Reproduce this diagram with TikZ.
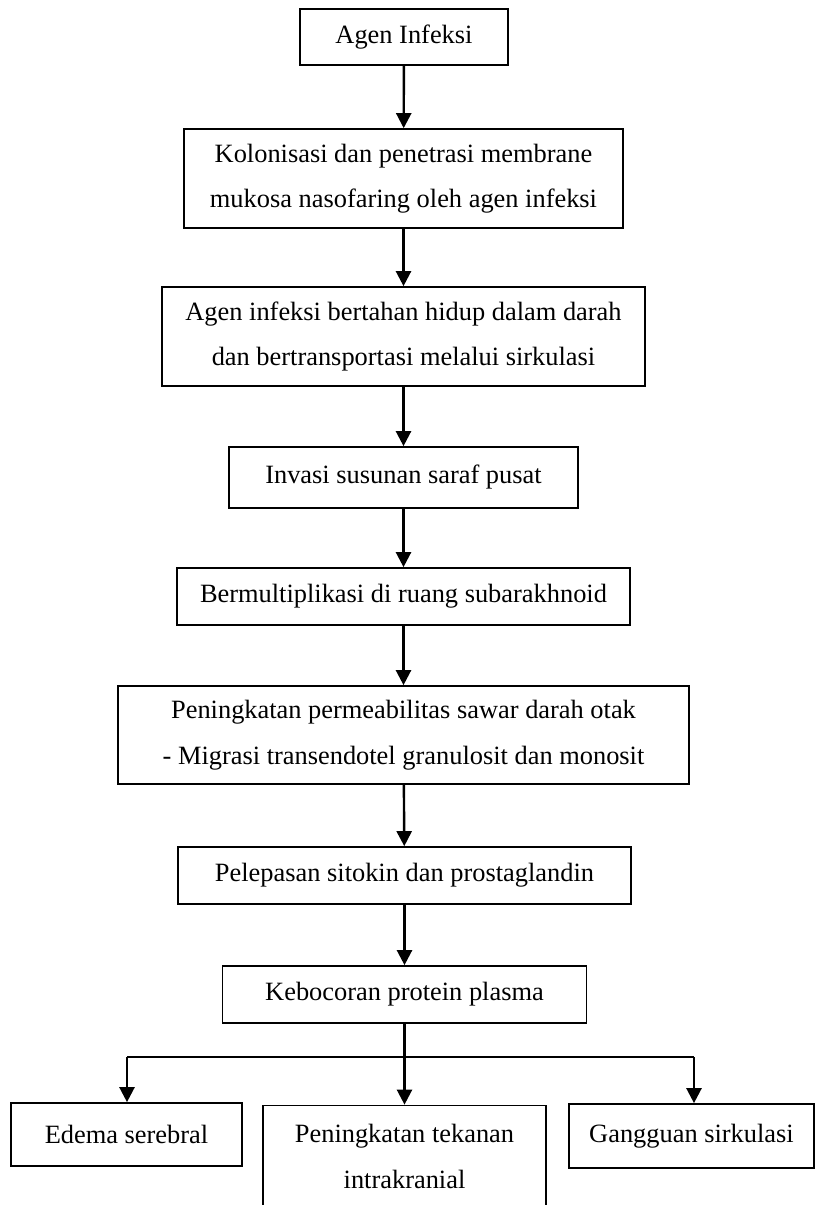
\documentclass[tikz,border=0pt]{standalone}
\usepackage{fontspec}
\setmainfont{Liberation Serif}
\usetikzlibrary{arrows.meta}

\tikzset{
  kotak/.style={draw,line width=0.85pt,align=center,inner sep=0pt,
    font=\fontsize{13.2}{22.75}\selectfont},
  panah/.style={-{Triangle[length=7.5pt,width=7.5pt]},line width=1.2pt}
}

\begin{document}
\begin{tikzpicture}[x=0.5pt,y=-0.5pt]
\clip (0,0) rectangle (815,1205);
\node[kotak,minimum width=104pt,minimum height=28pt] (agen) at (404,37) {Agen Infeksi};
\node[kotak,minimum width=219.5pt,minimum height=49.5pt] (kolonisasi) at (403.5,178.5)
  {Kolonisasi dan penetrasi membrane\\mukosa nasofaring oleh agen infeksi};
\node[kotak,minimum width=241.5pt,minimum height=49.5pt] (bertahan) at (403.5,336.5)
  {Agen infeksi bertahan hidup dalam darah\\dan bertransportasi melalui sirkulasi};
\node[kotak,minimum width=174.5pt,minimum height=30.5pt] (invasi) at (403.5,477.5)
  {Invasi susunan saraf pusat};
\node[kotak,minimum width=226.5pt,minimum height=28.5pt] (multiplikasi) at (403.5,596.5)
  {Bermultiplikasi di ruang subarakhnoid};
\node[kotak,minimum width=285.5pt,minimum height=49pt] (permeabilitas) at (403.5,735)
  {Peningkatan permeabilitas sawar darah otak\\- Migrasi transendotel granulosit dan monosit};
\node[kotak,minimum width=226.5pt,minimum height=28.5pt] (pelepasan) at (404.5,875.5)
  {Pelepasan sitokin dan prostaglandin};
\node[kotak,minimum width=182pt,minimum height=28.5pt] (kebocoran) at (404.5,994.5)
  {Kebocoran protein plasma};
\node[kotak,minimum width=115.5pt,minimum height=31.5pt] (edema) at (126.5,1134.5)
  {Edema serebral};
\node[kotak,minimum width=141.5pt,minimum height=51pt] (tekanan) at (404.5,1156.5)
  {Peningkatan tekanan\\intrakranial};
\node[kotak,minimum width=122.5pt,minimum height=32pt] (gangguan) at (691.5,1136)
  {Gangguan sirkulasi};

\draw[panah] (agen) -- (kolonisasi);
\draw[panah] (kolonisasi) -- (bertahan);
\draw[panah] (bertahan) -- (invasi);
\draw[panah] (invasi) -- (multiplikasi);
\draw[panah] (multiplikasi) -- (permeabilitas);
\draw[panah] (permeabilitas) -- (pelepasan);
\draw[panah] (pelepasan) -- (kebocoran);
\draw[panah] (kebocoran) -- (tekanan);

\coordinate (cabangkiri) at (127,1057);
\coordinate (cabangkanan) at (694,1057);
\draw[line width=0.85pt] (cabangkiri) -- (cabangkanan);
\draw[panah] (cabangkiri) -- (cabangkiri |- edema.north);
\draw[panah] (cabangkanan) -- (cabangkanan |- gangguan.north);
\end{tikzpicture}
\end{document}
